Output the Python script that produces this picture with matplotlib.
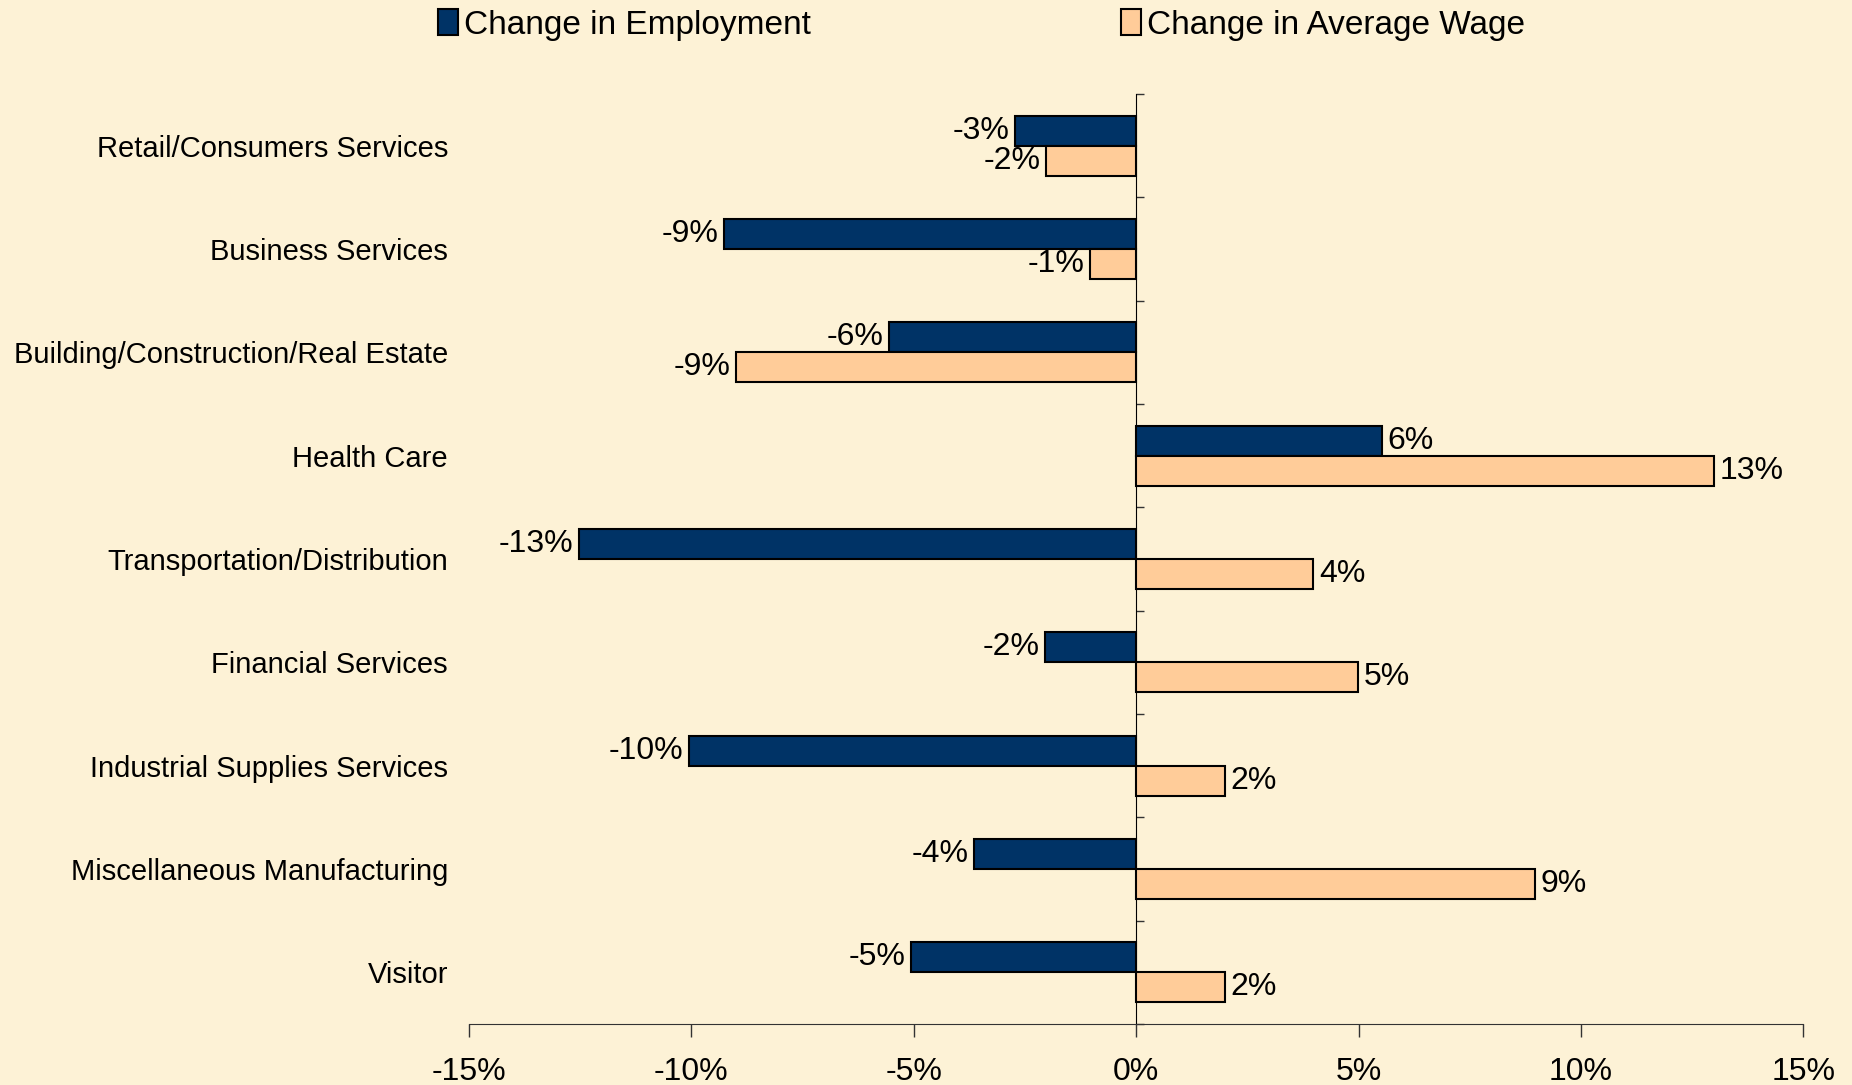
import numpy as np
import matplotlib
matplotlib.use("Agg")
import matplotlib.pyplot as plt
from matplotlib.patches import Patch

categories = ["Retail/Consumers Services", "Business Services",
              "Building/Construction/Real Estate", "Health Care",
              "Transportation/Distribution", "Financial Services",
              "Industrial Supplies Services", "Miscellaneous Manufacturing",
              "Visitor"]
employment = [-2.73, -9.26, -5.55, 5.52, -12.53, -2.04, -10.06, -3.64, -5.07]
avg_wage = [-2.02, -1.04, -9.0, 12.98, 3.98, 4.99, 1.99, 8.97, 1.99]
xticks = [-15, -10, -5, 0, 5, 10, 15]

bg = "#FDF2D6"
navy = "#003366"
peach = "#FFCC99"

plt.rcParams["font.family"] = ["Liberation Sans", "DejaVu Sans"]

fig = plt.figure(figsize=(18.52, 10.85), dpi=100, facecolor=bg)
ax = fig.add_axes([0.2532, 0.0562, 0.7206, 0.8572], facecolor=bg)

n = len(categories)
y = np.arange(n)[::-1]
h = 0.29

b1 = ax.barh(y + h / 2, employment, height=h, color=navy, edgecolor="black", linewidth=1.5, zorder=3)
b2 = ax.barh(y - h / 2, avg_wage, height=h, color=peach, edgecolor="black", linewidth=1.5, zorder=3)

for bars, vals in ((b1, employment), (b2, avg_wage)):
    for bar, v in zip(bars, vals):
        yc = bar.get_y() + bar.get_height() / 2
        if v < 0:
            ax.annotate(f"{round(v):d}%", (v, yc), xytext=(-4, 0), textcoords="offset points",
                        ha="right", va="center", fontsize=23)
        else:
            ax.annotate(f"{round(v):d}%", (v, yc), xytext=(4, 0), textcoords="offset points",
                        ha="left", va="center", fontsize=23)

ax.set_xlim(-15, 15)
ax.set_ylim(-0.5, n - 0.5)
ax.set_xticks(xticks)
ax.set_xticklabels([f"{t}%" for t in xticks], fontsize=23)
ax.tick_params(axis="x", direction="out", length=9, width=1, color="#333333", pad=15)

ax.set_yticks(y)
ax.set_yticklabels(categories, fontsize=21)
ax.tick_params(axis="y", length=0, pad=15)

for s in ("top", "right", "left"):
    ax.spines[s].set_visible(False)
ax.spines["bottom"].set_color("#333333")

# vertical axis line at 0 with category boundary ticks
sec = ax.secondary_yaxis(0.5)
sec.set_yticks(np.arange(-0.5, n, 1.0))
sec.set_yticklabels([])
sec.tick_params(axis="y", direction="out", length=6, width=1, color="#333333")
sec.spines["left"].set_color("#333333")

handles = [Patch(facecolor=navy, edgecolor="black", linewidth=1.5),
           Patch(facecolor=peach, edgecolor="black", linewidth=1.5)]
fig.legend(handles, ["Change in Employment", "Change in Average Wage"],
           loc="center", bbox_to_anchor=(0.53, 0.977), ncol=2, frameon=False,
           fontsize=24, handlelength=0.6, handleheight=0.8, handletextpad=0.18,
           columnspacing=9.3)

fig.savefig("out.png", dpi=100, facecolor=bg)
